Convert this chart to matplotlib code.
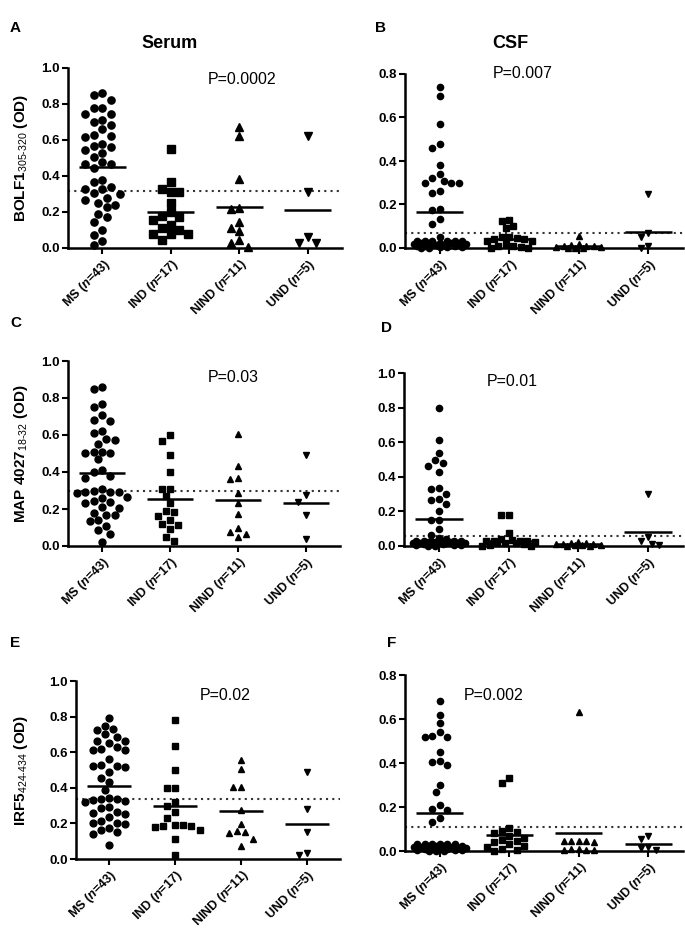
import numpy as np
import matplotlib.pyplot as plt

plt.rcParams['font.family'] = 'Liberation Sans'
plt.rcParams['mathtext.fontset'] = 'custom'
plt.rcParams['mathtext.rm'] = 'Liberation Sans'
plt.rcParams['mathtext.it'] = 'Liberation Sans:italic'
plt.rcParams['mathtext.bf'] = 'Liberation Sans:bold'
plt.rcParams['mathtext.bfit'] = 'Liberation Sans:italic:bold'

W, H = 685, 931

groups = ['MS', 'IND', 'NIND', 'UND']
group_n = [43, 17, 11, 5]
markers = ['o', 's', '^', 'v']

# --- A: serum BOLF1 305-320
a_ms = [0.86, 0.85, 0.82, 0.78, 0.78, 0.745, 0.745, 0.71, 0.70, 0.685,
        0.66, 0.625, 0.62, 0.615, 0.58, 0.565, 0.56, 0.545, 0.525, 0.505,
        0.475, 0.465, 0.465, 0.445, 0.38, 0.365, 0.34, 0.325, 0.325, 0.305,
        0.30, 0.28, 0.265, 0.25, 0.24, 0.225, 0.19, 0.17, 0.145, 0.10,
        0.07, 0.04, 0.015]
a_ind = [0.55, 0.365, 0.33, 0.31, 0.31, 0.25, 0.20, 0.175, 0.17, 0.155,
         0.13, 0.11, 0.10, 0.08, 0.08, 0.08, 0.045]
a_nind = [0.67, 0.62, 0.385, 0.22, 0.215, 0.145, 0.11, 0.095, 0.042, 0.028, 0.003]
a_und = [0.62, 0.31, 0.06, 0.03, 0.03]
a_means = [0.45, 0.20, 0.23, 0.21]
a_cut = 0.315

# --- B: CSF BOLF1
b_ms = [0.74, 0.70, 0.569, 0.478, 0.46, 0.382, 0.34, 0.32, 0.31, 0.30,
        0.30, 0.30, 0.26, 0.255, 0.18, 0.175, 0.135, 0.11, 0.05,
        0.03, 0.03, 0.03, 0.03, 0.03, 0.03, 0.025, 0.025, 0.025, 0.025,
        0.02, 0.02, 0.02, 0.015, 0.015, 0.015, 0.01, 0.01, 0.01,
        0.005, 0.005, 0.005, 0.0, 0.0]
b_ind = [0.13, 0.125, 0.10, 0.09, 0.05, 0.05, 0.045, 0.04, 0.04, 0.03,
         0.03, 0.02, 0.01, 0.01, 0.005, 0.0, 0.0]
b_nind = [0.055, 0.02, 0.015, 0.01, 0.01, 0.01, 0.005, 0.005, 0.0, 0.0, 0.0]
b_und = [0.25, 0.07, 0.05, 0.01, 0.0]
b_means = [0.165, 0.04, 0.01, 0.075]
b_cut = 0.068

# --- C: serum MAP 4027 18-32
c_ms = [0.86, 0.85, 0.77, 0.75, 0.71, 0.68, 0.675, 0.62, 0.61, 0.58,
        0.575, 0.55, 0.51, 0.51, 0.505, 0.505, 0.47, 0.41, 0.40, 0.38,
        0.37, 0.31, 0.30, 0.29, 0.29, 0.29, 0.285, 0.265, 0.26, 0.245,
        0.24, 0.235, 0.21, 0.205, 0.18, 0.17, 0.165, 0.14, 0.135, 0.11,
        0.085, 0.065, 0.02]
c_ind = [0.60, 0.57, 0.49, 0.40, 0.31, 0.31, 0.27, 0.23, 0.19, 0.185,
         0.16, 0.14, 0.12, 0.115, 0.09, 0.05, 0.025]
c_nind = [0.605, 0.435, 0.37, 0.36, 0.285, 0.23, 0.175, 0.10, 0.075, 0.065, 0.05]
c_und = [0.49, 0.275, 0.24, 0.17, 0.04]
c_means = [0.395, 0.255, 0.25, 0.235]
c_cut = 0.295

# --- D: CSF MAP 4027
d_ms = [0.80, 0.61, 0.54, 0.50, 0.48, 0.465, 0.43, 0.335, 0.33, 0.30,
        0.27, 0.265, 0.24, 0.20, 0.15, 0.15, 0.10, 0.065, 0.045, 0.04,
        0.03, 0.03, 0.03, 0.03, 0.03, 0.03, 0.025, 0.025, 0.025,
        0.02, 0.02, 0.02, 0.015, 0.015, 0.015, 0.01, 0.01, 0.01,
        0.005, 0.005, 0.005, 0.0, 0.0]
d_ind = [0.18, 0.18, 0.075, 0.04, 0.035, 0.03, 0.03, 0.03, 0.03, 0.025,
         0.02, 0.02, 0.015, 0.01, 0.005, 0.0, 0.0]
d_nind = [0.025, 0.02, 0.015, 0.01, 0.01, 0.01, 0.005, 0.005, 0.005, 0.0, 0.0]
d_und = [0.30, 0.05, 0.03, 0.01, 0.005]
d_means = [0.155, 0.03, 0.01, 0.08]
d_cut = 0.058

# --- E: serum IRF5 424-434
e_ms = [0.79, 0.75, 0.73, 0.725, 0.70, 0.685, 0.665, 0.665, 0.65, 0.63,
        0.62, 0.61, 0.61, 0.56, 0.53, 0.525, 0.52, 0.515, 0.49, 0.455,
        0.43, 0.39, 0.34, 0.335, 0.335, 0.33, 0.325, 0.32, 0.29, 0.285,
        0.265, 0.26, 0.255, 0.235, 0.215, 0.205, 0.20, 0.195, 0.175, 0.165,
        0.15, 0.14, 0.08]
e_ind = [0.78, 0.635, 0.50, 0.40, 0.40, 0.32, 0.30, 0.265, 0.23, 0.19,
         0.19, 0.185, 0.185, 0.18, 0.165, 0.115, 0.025]
e_nind = [0.555, 0.505, 0.405, 0.405, 0.275, 0.195, 0.155, 0.15, 0.145, 0.115, 0.075]
e_und = [0.49, 0.28, 0.15, 0.035, 0.02]
e_means = [0.41, 0.295, 0.27, 0.195]
e_cut = 0.335

# --- F: CSF IRF5
f_ms = [0.68, 0.62, 0.58, 0.54, 0.525, 0.52, 0.52, 0.45, 0.41, 0.405,
        0.39, 0.30, 0.27, 0.21, 0.19, 0.185, 0.15, 0.13,
        0.03, 0.03, 0.03, 0.03, 0.03, 0.03, 0.025, 0.025, 0.025, 0.025,
        0.02, 0.02, 0.02, 0.015, 0.015, 0.015, 0.01, 0.01, 0.01,
        0.005, 0.005, 0.005, 0.0, 0.0, 0.0]
f_ind = [0.33, 0.31, 0.105, 0.09, 0.085, 0.08, 0.07, 0.06, 0.05, 0.045,
         0.04, 0.03, 0.025, 0.02, 0.01, 0.005, 0.0]
f_nind = [0.63, 0.045, 0.045, 0.045, 0.045, 0.04, 0.01, 0.01, 0.005, 0.005, 0.005]
f_und = [0.07, 0.055, 0.02, 0.015, 0.005]
f_means = [0.175, 0.075, 0.08, 0.033]
f_cut = 0.108

p_texts = ['P=0.0002', 'P=0.007', 'P=0.03', 'P=0.01', 'P=0.02', 'P=0.002']
ylabels = [r'BOLF1$_{\mathrm{\text{305-320}}}$ (OD)', None,
           r'MAP 4027$_{\mathrm{\text{18-32}}}$ (OD)', None,
           r'IRF5$_{\mathrm{\text{424-434}}}$ (OD)', None]

# panel layout in pixels: left, right, top(y max), bottom(y=0)
panels = [
    dict(tag='A', data=[a_ms, a_ind, a_nind, a_und], means=a_means, cut=a_cut,
         box=(68, 342, 68, 248), ymax=1.0, ms=5.2, tagxy=(10, 28), pxy=(208, 80)),
    dict(tag='B', data=[b_ms, b_ind, b_nind, b_und], means=b_means, cut=b_cut,
         box=(405, 683, 74, 248), ymax=0.8, ms=4.5, tagxy=(380, 28), pxy=(493, 73)),
    dict(tag='C', data=[c_ms, c_ind, c_nind, c_und], means=c_means, cut=c_cut,
         box=(68, 340, 361, 546), ymax=1.0, ms=5.0, tagxy=(10, 323), pxy=(208, 377)),
    dict(tag='D', data=[d_ms, d_ind, d_nind, d_und], means=d_means, cut=d_cut,
         box=(404, 683, 373, 546), ymax=1.0, ms=4.5, tagxy=(387, 328), pxy=(487, 381)),
    dict(tag='E', data=[e_ms, e_ind, e_nind, e_und], means=e_means, cut=e_cut,
         box=(76, 340, 681, 859), ymax=1.0, ms=4.9, tagxy=(10, 643), pxy=(200, 696)),
    dict(tag='F', data=[f_ms, f_ind, f_nind, f_und], means=f_means, cut=f_cut,
         box=(405, 683, 675, 851), ymax=0.8, ms=4.5, tagxy=(392, 643), pxy=(464, 696)),
]

tick_labels = [rf'{g} ($\mathbfit{{n}}$={n})' for g, n in zip(groups, group_n)]


def swarm_x(ax, xc, vals, diam, half):
    # simple column scatter: spread points sideways so they do not overlap
    vals = np.asarray(vals, dtype=float)
    tr = ax.transData
    ypx = tr.transform(np.column_stack([np.full(len(vals), xc), vals]))[:, 1]
    ppu = tr.transform((xc + 1, 0))[0] - tr.transform((xc, 0))[0]
    step = diam / 2
    cands = [0.0]
    for k in range(1, int(half // step) + 1):
        cands += [-k * step, k * step]
    px, py = [], []
    out = np.zeros(len(vals))
    for i in np.argsort(-vals, kind='stable'):
        best, best_gap = 0.0, -1.0
        for c in cands:
            gap = np.min(np.hypot(np.array(px) - c, np.array(py) - ypx[i])) if px else np.inf
            if gap >= diam:
                best = c
                break
            if gap > best_gap:
                best, best_gap = c, gap
        px.append(best)
        py.append(ypx[i])
        out[i] = best
    return xc + out / ppu


fig = plt.figure(figsize=(W / 100, H / 100), dpi=100)

for k, p in enumerate(panels):
    l, r, t, b = p['box']
    ax = fig.add_axes([l / W, 1 - b / H, (r - l) / W, (b - t) / H])
    ax.set_xlim(-0.5, 3.5)
    ax.set_ylim(0, p['ymax'])
    for s in ['top', 'right']:
        ax.spines[s].set_visible(False)
    for s in ['left', 'bottom']:
        ax.spines[s].set_linewidth(1.8)
    ax.set_yticks(np.arange(0, p['ymax'] + 0.01, 0.2))
    ax.yaxis.set_major_formatter(plt.FormatStrFormatter('%.1f'))
    ax.set_xticks(range(4))
    ax.set_xticklabels(tick_labels, rotation=45, ha='right', va='top',
                       rotation_mode='anchor', fontweight='bold', fontsize=9)
    ax.tick_params(width=1.5, length=4, labelsize=9.5, pad=2)
    ax.tick_params(axis='x', labelsize=9)
    for lab in ax.get_yticklabels():
        lab.set_fontweight('bold')

    diam = p['ms'] * 100 / 72 * 1.2
    for g, vals in enumerate(p['data']):
        xs = swarm_x(ax, g, vals, diam, 0.4 * (r - l) / 4)
        ax.plot(xs, vals, linestyle='none', marker=markers[g], ms=p['ms'],
                color='black', mec='black', clip_on=False, zorder=3)
        ax.hlines(p['means'][g], g - 0.34, g + 0.34, color='black', lw=1.8, zorder=4)

    ax.axhline(p['cut'], color='#333333', lw=1.5, ls=(0, (1, 2)), zorder=2)

    fig.text(p['tagxy'][0] / W, 1 - p['tagxy'][1] / H, p['tag'], fontsize=11,
             fontweight='bold', ha='left' if k % 2 == 0 else 'center', va='center')
    fig.text(p['pxy'][0] / W, 1 - p['pxy'][1] / H, p_texts[k], fontsize=11.5,
             ha='left', va='center')
    if ylabels[k]:
        fig.text(21 / W, 1 - (t + b) / 2 / H, ylabels[k], rotation=90, fontsize=11,
                 fontweight='bold', ha='center', va='center')

fig.text(170 / W, 1 - 43 / H, 'Serum', fontsize=13, fontweight='bold', ha='center', va='center')
fig.text(510 / W, 1 - 43 / H, 'CSF', fontsize=13, fontweight='bold', ha='center', va='center')

fig.savefig('out.png', dpi=100, facecolor='white')
